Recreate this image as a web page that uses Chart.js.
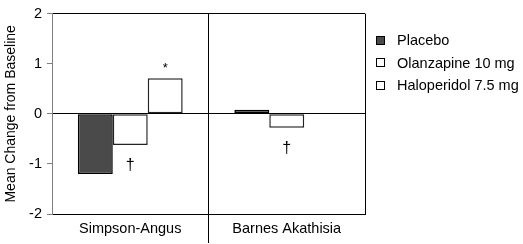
<!DOCTYPE html>
<html>
<head>
<meta charset="utf-8">
<script src="https://cdn.jsdelivr.net/npm/chart.js@4/dist/chart.umd.min.js"></script>
<style>
html,body{margin:0;padding:0;background:#fff;}
#wrap{width:523px;height:244px;position:relative;}
</style>
</head>
<body>
<div id="wrap"><canvas id="c" width="523" height="244"></canvas></div>
<script>
const categories = ['Simpson-Angus', 'Barnes Akathisia'];
const seriesNames = ['Placebo', 'Olanzapine 10 mg', 'Haloperidol 7.5 mg'];
const placebo = [-1.2, 0.08];
const olanzapine = [-0.62, -0.28];
const haloperidol = [0.71, 0];
const yTicks = [-2, -1, 0, 1, 2];
const marks = [
  {dataset: 1, index: 0, text: '\u2020'},
  {dataset: 1, index: 1, text: '\u2020'},
  {dataset: 2, index: 0, text: '*'}
];

const fills = ['#4a4a4a', '#ffffff', '#ffffff'];
const FONT = 'Liberation Sans, Arial, sans-serif';

const markPlugin = {
  id: 'marks',
  afterDatasetsDraw(chart) {
    const ctx = chart.ctx;
    ctx.save();
    ctx.fillStyle = '#000';
    ctx.textAlign = 'center';
    ctx.textBaseline = 'middle';
    marks.forEach(m => {
      const el = chart.getDatasetMeta(m.dataset).data[m.index];
      const v = chart.data.datasets[m.dataset].data[m.index];
      if (v < 0) {
        ctx.font = '16px ' + FONT;
        ctx.fillText(m.text, el.x, el.y + 21);
      } else {
        ctx.font = '13px ' + FONT;
        ctx.fillText(m.text, el.x, el.y - 10);
      }
    });
    ctx.restore();
  }
};

const framePlugin = {
  id: 'frame',
  afterDraw(chart) {
    const a = chart.chartArea;
    const ctx = chart.ctx;
    ctx.save();
    ctx.strokeStyle = '#000';
    ctx.lineWidth = 1;
    ctx.beginPath();
    ctx.moveTo(Math.round(a.right) + 0.5, a.top);
    ctx.lineTo(Math.round(a.right) + 0.5, a.bottom);
    ctx.stroke();
    // legend
    ctx.font = '14.5px ' + FONT;
    ctx.textBaseline = 'middle';
    ctx.textAlign = 'left';
    const lx = Math.round(a.right) + 11;
    chart.data.datasets.forEach((ds, i) => {
      const cy = 40 + i * 22.5;
      ctx.fillStyle = ds.backgroundColor;
      ctx.fillRect(lx, Math.round(cy - 4.5), 9, 9);
      ctx.strokeStyle = '#000';
      ctx.strokeRect(lx + 0.5, Math.round(cy - 4.5) + 0.5, 8, 8);
      ctx.fillStyle = '#000';
      ctx.fillText(ds.label, lx + 21, cy + 1);
    });
    ctx.restore();
  }
};

new Chart(document.getElementById('c'), {
  type: 'bar',
  data: {
    labels: categories,
    datasets: [
      {label: seriesNames[0], data: placebo, backgroundColor: fills[0], borderColor: '#000', borderWidth: 1.5, borderSkipped: false},
      {label: seriesNames[1], data: olanzapine, backgroundColor: fills[1], borderColor: '#222', borderWidth: 1.5, borderSkipped: false},
      {label: seriesNames[2], data: haloperidol, backgroundColor: fills[2], borderColor: '#222', borderWidth: 1.5, borderSkipped: false}
    ]
  },
  options: {
    responsive: false,
    animation: false,
    devicePixelRatio: 1,
    layout: {padding: {top: 12, right: 158, left: 0, bottom: 0}},
    datasets: {bar: {categoryPercentage: 0.67, barPercentage: 1}},
    plugins: {legend: {display: false}, tooltip: {enabled: false}},
    scales: {
      x: {
        offset: true,
        grid: {
          offset: true,
          color: c => c.index === 1 ? '#000' : 'rgba(0,0,0,0)',
          tickColor: c => c.index === 1 ? '#000' : 'rgba(0,0,0,0)',
          tickLength: 29,
          lineWidth: 1
        },
        border: {color: '#000', width: 1},
        ticks: {color: '#000', font: {family: FONT, size: 14.5}, padding: -23, maxRotation: 0},
        afterFit: s => { s.height = 30; }
      },
      y: {
        min: -2, max: 2,
        afterBuildTicks: s => { s.ticks = yTicks.map(v => ({value: v})); },
        grid: {
          color: c => (c.tick && (c.tick.value === 0 || c.tick.value === 2)) ? '#000' : 'rgba(0,0,0,0)',
          tickColor: '#808080',
          tickLength: 5,
          lineWidth: 1
        },
        border: {color: '#808080', width: 1},
        ticks: {color: '#000', font: {family: FONT, size: 14.5}, padding: 5},
        title: {display: true, text: 'Mean Change from Baseline', color: '#000', font: {family: FONT, size: 14}, padding: {top: 3, bottom: 0}},
        afterFit: s => { s.width = 52; }
      }
    }
  },
  plugins: [markPlugin, framePlugin]
});
</script>
</body>
</html>
